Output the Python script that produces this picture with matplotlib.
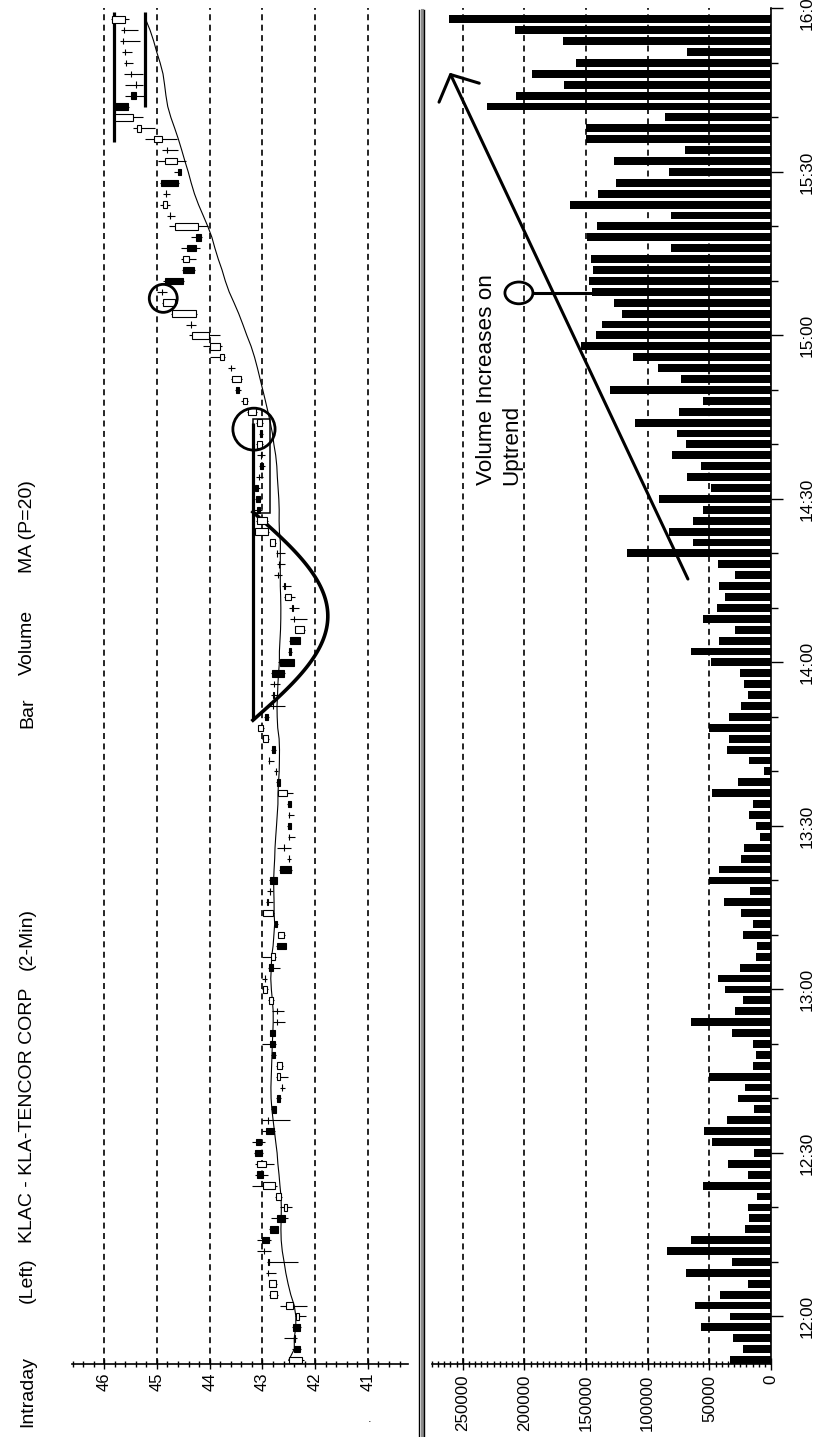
import numpy as np
import pandas as pd
import matplotlib
matplotlib.use("Agg")
import matplotlib.pyplot as plt
from matplotlib.patches import Ellipse, Rectangle, FancyArrowPatch
from matplotlib.lines import Line2D

plt.rcParams['lines.scale_dashes'] = False
FONT = ['Liberation Sans', 'DejaVu Sans']

# 2-min bars, bar 0 = 11:52, last bar = 15:58
opens = [42.25, 42.41, 42.38, 42.42, 42.30, 42.42, 42.72, 42.74, 42.90, 42.90,
         42.97, 43.00, 42.86, 42.73, 42.53, 42.64, 42.76, 43.10, 42.93, 43.15,
         43.12, 42.93, 42.90, 42.82, 42.73, 42.62, 42.66, 42.62, 42.82, 42.86,
         42.85, 42.73, 42.72, 42.79, 42.91, 42.95, 42.88, 42.76, 42.73, 42.59,
         42.76, 42.79, 42.90, 42.85, 42.86, 42.67, 42.50, 42.60, 42.50, 42.52,
         42.50, 42.52, 42.54, 42.73, 42.74, 42.88, 42.82, 42.89, 42.98, 42.95,
         42.80, 42.80, 42.78, 42.82, 42.67, 42.50, 42.48, 42.22, 42.40, 42.42,
         42.45, 42.57, 42.70, 42.68, 42.72, 42.76, 42.90, 42.92, 43.10, 43.12,
         43.15, 43.06, 43.04, 43.02, 43.00, 43.05, 43.00, 43.12, 43.30, 43.50,
         43.40, 43.60, 43.73, 43.80, 44.02, 44.35, 44.25, 44.65, 44.90, 44.85,
         44.50, 44.40, 44.43, 44.25, 44.22, 44.75, 44.80, 44.82, 44.93, 44.60,
         44.62, 44.80, 44.90, 45.30, 45.45, 45.80, 45.50, 45.40, 45.50, 45.58,
         45.60, 45.65, 45.62, 45.60]
highs = [42.52, 42.43, 42.60, 42.44, 42.38, 42.67, 42.88, 42.88, 42.93, 42.92,
         43.10, 43.10, 42.87, 42.84, 42.66, 42.76, 43.20, 43.15, 43.15, 43.16,
         43.20, 43.00, 43.00, 42.84, 42.75, 42.67, 42.74, 42.74, 42.83, 43.00,
         42.86, 42.79, 42.82, 42.89, 43.00, 43.01, 42.89, 43.00, 42.74, 42.71,
         42.77, 42.99, 42.93, 42.92, 42.88, 42.68, 42.54, 42.73, 42.52, 42.53,
         42.52, 42.53, 42.71, 42.74, 42.78, 42.90, 42.83, 43.00, 43.09, 42.97,
         42.92, 42.84, 42.85, 42.84, 42.70, 42.52, 42.50, 42.39, 42.47, 42.50,
         42.60, 42.62, 42.78, 42.72, 42.75, 42.86, 43.15, 43.12, 43.16, 43.14,
         43.16, 43.12, 43.06, 43.10, 43.12, 43.07, 43.12, 43.30, 43.40, 43.52,
         43.60, 43.66, 43.99, 44.12, 44.40, 44.45, 44.74, 44.90, 45.00, 44.88,
         44.52, 44.55, 44.55, 44.35, 44.78, 44.80, 44.95, 44.88, 44.95, 44.68,
         44.98, 44.90, 45.22, 45.45, 45.82, 45.82, 45.60, 45.60, 45.63, 45.63,
         45.66, 45.70, 45.68, 45.88]
lows = [42.22, 42.27, 42.35, 42.27, 42.17, 42.16, 42.70, 42.72, 42.74, 42.33,
        42.84, 42.84, 42.70, 42.51, 42.44, 42.62, 42.73, 42.90, 42.78, 42.98,
        42.95, 42.76, 42.47, 42.74, 42.64, 42.57, 42.51, 42.61, 42.75, 42.75,
        42.76, 42.57, 42.60, 42.78, 42.90, 42.92, 42.67, 42.75, 42.55, 42.58,
        42.70, 42.78, 42.79, 42.80, 42.72, 42.44, 42.45, 42.45, 42.38, 42.45,
        42.40, 42.45, 42.42, 42.66, 42.70, 42.78, 42.75, 42.88, 42.97, 42.88,
        42.57, 42.72, 42.66, 42.58, 42.40, 42.43, 42.28, 42.20, 42.16, 42.30,
        42.38, 42.45, 42.62, 42.57, 42.58, 42.74, 42.88, 42.90, 43.00, 43.02,
        43.05, 42.98, 42.96, 42.95, 42.98, 42.98, 42.98, 43.10, 43.28, 43.40,
        43.38, 43.52, 43.70, 43.76, 43.80, 44.25, 44.24, 44.62, 44.80, 44.48,
        44.28, 44.25, 44.18, 44.15, 44.03, 44.65, 44.75, 44.75, 44.58, 44.55,
        44.45, 44.60, 44.62, 45.04, 45.26, 45.52, 45.22, 45.26, 45.26, 45.45,
        45.48, 45.32, 45.35, 45.52]
closes = [42.50, 42.29, 42.40, 42.28, 42.36, 42.55, 42.86, 42.87, 42.90, 42.88,
          42.97, 42.87, 42.71, 42.58, 42.60, 42.74, 42.99, 42.98, 43.10, 43.00,
          43.02, 42.78, 42.90, 42.75, 42.66, 42.62, 42.73, 42.73, 42.76, 42.76,
          42.77, 42.73, 42.72, 42.88, 42.99, 42.96, 42.80, 42.84, 42.55, 42.70,
          42.73, 42.98, 42.92, 42.85, 42.73, 42.45, 42.50, 42.60, 42.50, 42.46,
          42.50, 42.46, 42.70, 42.67, 42.74, 42.88, 42.76, 42.99, 43.08, 42.90,
          42.80, 42.78, 42.78, 42.60, 42.41, 42.45, 42.29, 42.38, 42.40, 42.44,
          42.57, 42.60, 42.70, 42.68, 42.72, 42.85, 43.14, 43.10, 43.05, 43.04,
          43.08, 43.06, 42.98, 43.02, 43.10, 43.00, 43.10, 43.28, 43.36, 43.44,
          43.58, 43.60, 43.80, 43.99, 44.34, 44.35, 44.72, 44.88, 44.90, 44.50,
          44.30, 44.50, 44.25, 44.17, 44.65, 44.75, 44.88, 44.82, 44.60, 44.55,
          44.85, 44.80, 45.06, 45.38, 45.80, 45.54, 45.40, 45.40, 45.50, 45.58,
          45.60, 45.65, 45.62, 45.85]
# volume in thousands
volume_k = [33, 23, 31, 57, 33, 62, 41, 19, 69, 32, 84, 65, 21, 18, 19, 11, 55, 19, 35,
            14, 48, 54, 36, 14, 27, 21, 50, 15, 12, 15, 32, 65, 29, 23, 37, 43, 25, 12,
            11, 23, 15, 24, 38, 17, 50, 42, 24, 22, 9, 12, 18, 15, 48, 27,
            6, 18, 36, 34, 50, 34, 24, 19, 22, 25, 49, 65, 42, 29, 55, 44, 37, 42, 29,
            43, 117, 63, 83, 63, 55, 91, 49, 68, 57, 80, 69, 76, 110, 75, 55,
            131, 73, 92, 112, 154, 142, 137, 121, 127, 145, 148, 144, 146, 81, 149, 141,
            81, 163, 140, 126, 83, 127, 70, 150, 150, 86, 230, 207, 168, 194, 158, 68,
            169, 208, 261]

time_labels = ['12:00', '12:30', '13:00', '13:30', '14:00', '14:30', '15:00', '15:30', '16:00']
time_tick_bars = [4, 19, 34, 49, 64, 79, 94, 109, 124]
price_ticks = [46, 45, 44, 43, 42, 41]
vol_ticks = [250000, 200000, 150000, 100000, 50000, 0]

o = np.array(opens); h = np.array(highs); l = np.array(lows); c = np.array(closes)
vol = np.array(volume_k) * 1000
bars = np.arange(len(c))
ma = pd.Series(c).rolling(20, min_periods=1).mean()

W, H = 822, 1437
fig = plt.figure(figsize=(W / 100, H / 100), dpi=100)

def fx(px):
    return px / W

def fy(py):
    return 1 - py / H

bot, top = fy(1364.4), fy(8.4)
axp = fig.add_axes([fx(72), bot, fx(408) - fx(72), top - bot])
axv = fig.add_axes([fx(432), bot, fx(771) - fx(432), top - bot])
grid_style = dict(linestyle=(0, (4.3, 3.2)), color='black', linewidth=1.2)

# ---- price panel (rotated: price on x, time on y)
up = c >= o
axp.hlines(bars, l, h, color='black', lw=0.8, zorder=2)
axp.barh(bars, np.abs(c - o), left=np.minimum(o, c), height=0.6,
         color=np.where(up, 'white', 'black'), edgecolor='black', lw=0.8, zorder=3)
axp.plot(ma, bars, color='black', lw=0.8, zorder=2)
axp.set_xlim(46.61, 40.24)
axp.set_ylim(-0.4, 124)
axp.set_xticks(price_ticks)
axp.set_xticklabels([str(p) for p in price_ticks], rotation=90, family=FONT, fontsize=12)
axp.set_xticks(np.arange(40.4, 46.61, 0.2), minor=True)
axp.tick_params(axis='x', which='major', direction='inout', length=7.2, width=1, pad=2)
axp.tick_params(axis='x', which='minor', direction='inout', length=4, width=1)
axp.tick_params(axis='y', left=False, labelleft=False)
axp.grid(axis='x', which='major', **grid_style)
for s in ['top', 'left', 'right']:
    axp.spines[s].set_visible(False)
axp.spines['bottom'].set_linewidth(1.2)

# price annotations: top range, handle box, cup, circles
thick = dict(color='black', lw=2.3, solid_capstyle='butt', clip_on=False)
axp.plot([45.81, 45.81], [111.7, 123.7], **thick)
axp.plot([45.22, 45.22], [114.95, 123.7], **thick)
axp.plot([43.18, 43.18], [58.7, 86.0], **thick)
axp.add_patch(Rectangle((42.86, 77.7), 0.32, 8.6, fill=False, lw=1.1, ec='black'))
cup_t = np.linspace(0, 1, 80)
axp.plot(43.18 - 1.42 * np.sin(np.pi * cup_t), 58.7 + 19.1 * cup_t, color='black', lw=2.6)
axp.add_patch(Ellipse((44.88, 97.4), 0.53, 2.57, fill=False, lw=2, ec='black', zorder=5))
axp.add_patch(Ellipse((43.16, 85.4), 0.8, 3.85, fill=False, lw=2, ec='black', zorder=5))

# ---- volume panel
axv.barh(bars, vol, height=0.72, color='black', zorder=2)
axv.set_xlim(275000, 0)
axv.set_ylim(-0.4, 124)
axv.set_xticks(vol_ticks)
axv.set_xticklabels([str(v) for v in vol_ticks], rotation=90, family=FONT, fontsize=12.2)
axv.set_xticks(np.arange(0, 275001, 5000), minor=True)
axv.tick_params(axis='x', which='major', direction='inout', length=8.6, width=1, pad=3.3)
axv.tick_params(axis='x', which='minor', direction='inout', length=4, width=1)
axv.grid(axis='x', which='major', **grid_style)
axv.yaxis.tick_right()
axv.set_yticks(time_tick_bars)
axv.set_yticklabels(time_labels, rotation=90, family=FONT, fontsize=12.4, va='center')
axv.set_yticks([b for b in range(4, 125, 5) if b not in time_tick_bars], minor=True)
axv.tick_params(axis='y', which='major', direction='out', length=8.6, width=1, pad=12)
axv.tick_params(axis='y', which='minor', direction='out', length=5, width=1)
for s in ['top', 'left']:
    axv.spines[s].set_visible(False)
axv.spines['bottom'].set_linewidth(1.2)
axv.spines['right'].set_linewidth(1.2)

axv.add_patch(Ellipse((204500, 97.9), 22700, 2.0, fill=False, lw=2, ec='black', zorder=5))
axv.plot([193000, 0], [97.9, 97.9], color='black', lw=2.2, zorder=4)
axv.add_patch(FancyArrowPatch((67400, 71.65), (260600, 118.1),
                              arrowstyle='->,head_length=0.72,head_width=0.8',
                              mutation_scale=20, lw=2.2, color='black',
                              shrinkA=0, shrinkB=0, zorder=5))

# ---- texts
def vtext(px, py, s, size):
    fig.text(fx(px), fy(py), s, rotation=90, rotation_mode='anchor',
             ha='left', va='baseline', fontsize=size, family=FONT)

vtext(32, 1427, 'Intraday', 14)
vtext(32, 1303, '(Left)', 14)
vtext(32, 1243, 'KLAC - KLA-TENCOR CORP', 14)
vtext(32, 970, '(2-Min)', 14)
vtext(32, 728, 'Bar', 14)
vtext(32, 675, 'Volume', 14)
vtext(32, 573, 'MA (P=20)', 14)
vtext(492, 485, 'Volume Increases on', 16.2)
vtext(517, 485, 'Uptrend', 16.2)
fig.text(fx(370), fy(1422), '.', fontsize=8, ha='center', va='baseline')

# double separator line
fig.add_artist(Line2D([fx(421.5)] * 2, [fy(10), fy(1437)], color='0.55', lw=2.2))
fig.add_artist(Line2D([fx(419.3)] * 2, [fy(10), fy(1437)], color='black', lw=1.0))
fig.add_artist(Line2D([fx(423.7)] * 2, [fy(10), fy(1437)], color='black', lw=1.0))

fig.savefig('out.png', dpi=100, facecolor='white')
